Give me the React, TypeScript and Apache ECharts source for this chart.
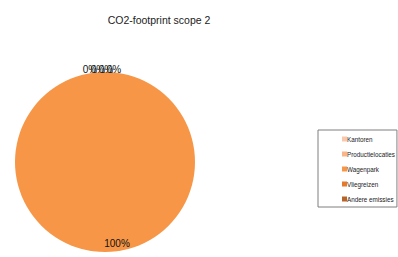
import React, { useEffect, useRef } from "react";
import * as echarts from "echarts";

const title = "CO2-footprint scope 2";
const categories = ["Kantoren", "Productielocaties", "Wagenpark", "Vliegreizen", "Andere emissies"];
const values = [0, 0, 100, 0, 0];
const colors = ["#F9C6AE", "#FAB58A", "#F79646", "#E5792C", "#B7642A"];
const labelShiftX = [-15, -7, 12, 1, 9];
const labelShiftY = [-45, -45, 33, -45, -45];

export default function App() {
  const ref = useRef<HTMLDivElement>(null);
  useEffect(() => {
    if (!ref.current) return;
    const chart = echarts.init(ref.current, null, { renderer: "svg" });
    const total = values.reduce((a, b) => a + b, 0);
    chart.setOption({
      animation: false,
      title: {
        text: title,
        left: 154,
        top: 9,
        textAlign: "center",
        textStyle: { fontFamily: "Liberation Sans", fontSize: 10.5, fontWeight: "normal", color: "#222" },
      },
      legend: {
        orient: "vertical",
        left: 318,
        top: 130,
        padding: [6, 2, 5, 24],
        itemGap: 9,
        itemWidth: 5,
        itemHeight: 5,
        icon: "rect",
        borderColor: "#7f7f7f",
        borderWidth: 1,
        data: categories,
        textStyle: { fontFamily: "Liberation Sans", fontSize: 6.3, color: "#222", padding: [0, 0, 0, -5] },
        selectedMode: false,
      },
      series: [
        {
          type: "pie",
          center: [105, 162],
          radius: 90,
          startAngle: 90,
          clockwise: true,
          avoidLabelOverlap: false,
          data: categories.map((c, i) => ({
            name: c,
            value: values[i],
            itemStyle: { color: colors[i] },
          })),
          label: {
            show: true,
            position: "inside",
            formatter: (p: any) => `${Math.round((p.value / total) * 100)}%`,
            fontFamily: "Liberation Sans",
            fontSize: 10,
            color: "#111",
          },
          labelLine: { show: false },
          labelLayout: (p: any) => ({
            dx: labelShiftX[p.dataIndex],
            dy: labelShiftY[p.dataIndex],
          }),
          emphasis: { disabled: true },
        },
      ],
    });
    return () => chart.dispose();
  }, []);
  return <div ref={ref} style={{ position: "absolute", left: 0, top: 0, width: 398, height: 257 }} />;
}
